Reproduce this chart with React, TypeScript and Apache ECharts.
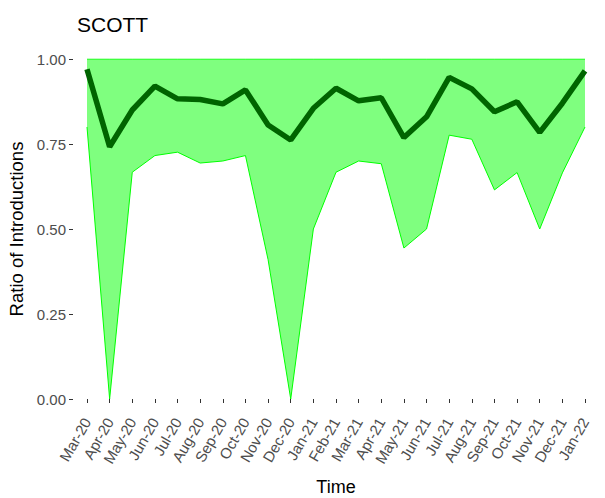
import React, { useEffect, useRef } from "react";
import * as echarts from "echarts";

const months = ["Mar-20","Apr-20","May-20","Jun-20","Jul-20","Aug-20","Sep-20","Oct-20","Nov-20","Dec-20","Jan-21","Feb-21","Mar-21","Apr-21","May-21","Jun-21","Jul-21","Aug-21","Sep-21","Oct-21","Nov-21","Dec-21","Jan-22"];
const meanRatio = [0.97,0.742,0.85,0.92,0.883,0.881,0.868,0.909,0.806,0.762,0.855,0.914,0.877,0.886,0.769,0.83,0.946,0.912,0.845,0.874,0.784,0.87,0.965];
const lowerRatio = [0.8,0,0.667,0.716,0.726,0.694,0.7,0.716,0.41,0,0.5,0.667,0.7,0.692,0.444,0.5,0.776,0.764,0.615,0.666,0.5,0.665,0.8];
const upperRatio = [1,1,1,1,1,1,1,1,1,1,1,1,1,1,1,1,1,1,1,1,1,1,1];
const yTicks = [0, 0.25, 0.5, 0.75, 1];

export default function App() {
  const ref = useRef<HTMLDivElement>(null);
  useEffect(() => {
    if (!ref.current) return;
    const chart = echarts.init(ref.current, null, { renderer: "svg" });
    const font = "'Liberation Sans', Arial, sans-serif";
    chart.setOption({
      animation: false,
      textStyle: { fontFamily: font },
      title: {
        text: "SCOTT",
        left: 72,
        top: 9,
        textStyle: { fontFamily: font, fontSize: 21, fontWeight: "normal", color: "#000" },
      },
      grid: { left: 87, right: 20, top: 59, bottom: 99, containLabel: false, outerBoundsMode: "none" },
      xAxis: {
        type: "category",
        data: months,
        boundaryGap: false,
        offset: 16,
        axisLine: { show: false },
        axisTick: { show: true, alignWithLabel: true, length: 4, lineStyle: { color: "#333", width: 1 } },
        axisLabel: { rotate: 60, interval: 0, margin: 4, color: "#4D4D4D", fontSize: 15, fontFamily: font },
        splitLine: { show: false },
        name: "Time",
        nameLocation: "middle",
        nameGap: 63,
        nameTextStyle: { color: "#000", fontSize: 18, fontFamily: font },
      },
      yAxis: {
        type: "value",
        min: 0,
        max: 1,
        interval: 0.25,
        offset: 14,
        axisLine: { show: false },
        axisTick: { show: true, length: 4, lineStyle: { color: "#333", width: 1 } },
        axisLabel: {
          color: "#4D4D4D",
          fontSize: 15,
          margin: 7,
          fontFamily: font,
          formatter: (v: number) => (yTicks.includes(v) ? v.toFixed(2) : ""),
        },
        splitLine: { show: false },
        name: "Ratio of Introductions",
        nameLocation: "middle",
        nameGap: 38,
        nameRotate: 90,
        nameTextStyle: { color: "#000", fontSize: 18.5, fontFamily: font },
      },
      series: [
        {
          type: "line",
          data: lowerRatio,
          stack: "band",
          symbol: "none",
          lineStyle: { color: "#00FF00", width: 1 },
          silent: true,
        },
        {
          type: "line",
          data: upperRatio.map((u, i) => u - lowerRatio[i]),
          stack: "band",
          symbol: "none",
          lineStyle: { color: "#00FF00", width: 1 },
          areaStyle: { color: "rgba(0,255,0,0.5)", opacity: 1 },
          silent: true,
        },
        {
          type: "line",
          data: meanRatio,
          symbol: "none",
          lineStyle: { color: "#006400", width: 5.5 },
          z: 5,
        },
      ],
    });
    return () => chart.dispose();
  }, []);
  return <div ref={ref} style={{ width: 605, height: 498, position: "absolute", left: 0, top: 0 }} />;
}
